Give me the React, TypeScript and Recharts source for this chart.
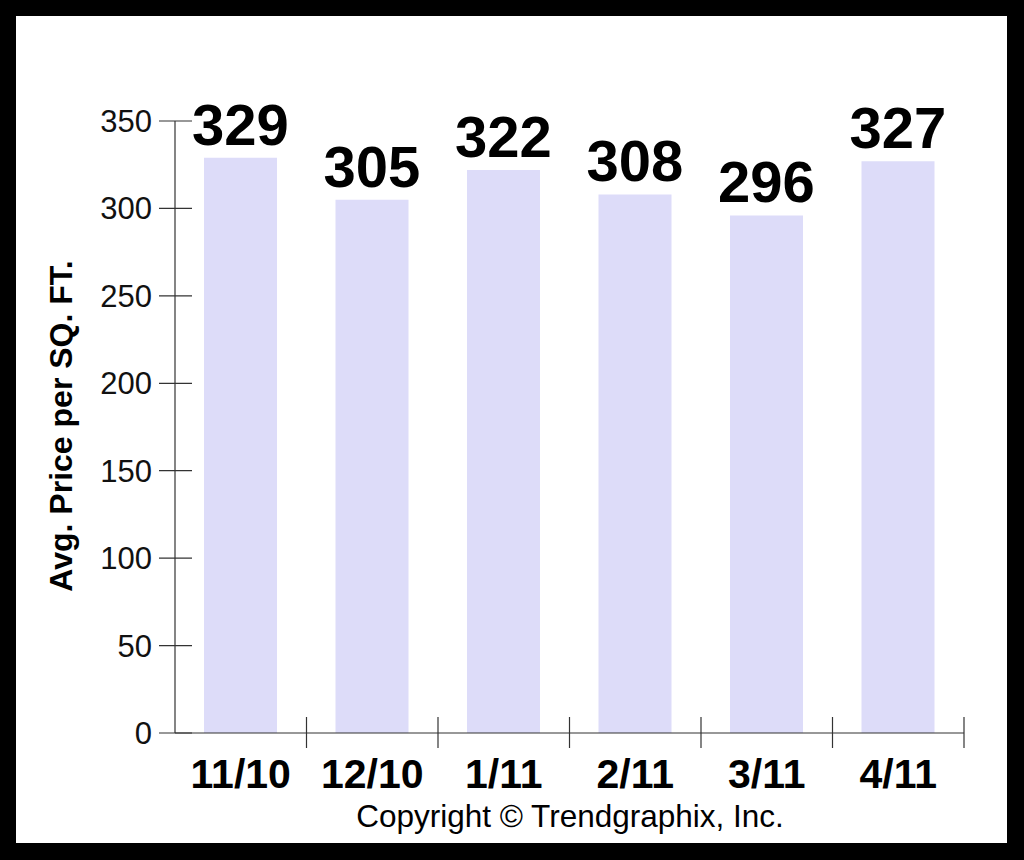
import { BarChart, Bar, XAxis, YAxis, LabelList, Label } from "recharts";

const months = ["11/10", "12/10", "1/11", "2/11", "3/11", "4/11"];
const pricePerSqFt = [329, 305, 322, 308, 296, 327];
const yTicks = [0, 50, 100, 150, 200, 250, 300, 350];

const data = months.map((month, i) => ({ month, price: pricePerSqFt[i] }));

const FONT = "'Liberation Sans', Arial, Helvetica, sans-serif";
const PLOT_LEFT = 175;
const PLOT_RIGHT = 964;
const BAND = (PLOT_RIGHT - PLOT_LEFT) / months.length;

function YTick(props: any) {
  const { x, y, payload } = props;
  return (
    <g>
      <line x1={x - 16} x2={x + 17} y1={y} y2={y} stroke="#333" strokeWidth={1.2} />
      <text
        x={x - 23}
        y={y}
        dy={11}
        textAnchor="end"
        fontFamily={FONT}
        fontSize={31}
        fill="#111"
      >
        {payload.value}
      </text>
    </g>
  );
}

function XTick(props: any) {
  const { x, y, payload } = props;
  const edge = x + BAND / 2;
  return (
    <g>
      <line x1={edge} x2={edge} y1={y - 16} y2={y + 15} stroke="#333" strokeWidth={1.2} />
      <text
        x={x}
        y={y + 55}
        textAnchor="middle"
        fontFamily={FONT}
        fontSize={41}
        fontWeight="bold"
        fill="#000"
      >
        {payload.value}
      </text>
    </g>
  );
}

function YTitle() {
  const cx = 72;
  const cy = 426;
  return (
    <text
      x={cx}
      y={cy}
      transform={`rotate(-90 ${cx} ${cy})`}
      textAnchor="middle"
      fontFamily={FONT}
      fontSize={32}
      fontWeight="bold"
      fill="#000"
    >
      Avg. Price per SQ. FT.
    </text>
  );
}

export default function App() {
  return (
    <div
      style={{
        position: "absolute",
        left: 0,
        top: 0,
        width: 1024,
        height: 860,
        background: "#000",
      }}
    >
      <div
        style={{
          position: "absolute",
          left: 16,
          top: 16,
          width: 991,
          height: 827,
          background: "#fff",
        }}
      />
      <div style={{ position: "absolute", left: 0, top: 0 }}>
        <BarChart
          width={1024}
          height={860}
          data={data}
          margin={{ top: 121, right: 1024 - PLOT_RIGHT, bottom: 27, left: 95 }}
          barSize={73}
        >
          <XAxis
            dataKey="month"
            axisLine={{ stroke: "#333", strokeWidth: 1.2 }}
            tickLine={false}
            tickSize={0}
            tickMargin={0}
            tick={<XTick />}
            interval={0}
            height={100}
          />
          <YAxis
            domain={[0, 350]}
            ticks={yTicks}
            width={80}
            axisLine={{ stroke: "#333", strokeWidth: 1.2 }}
            tickLine={false}
            tickSize={0}
            tickMargin={0}
            tick={<YTick />}
            interval={0}
          >
            <Label content={<YTitle />} />
          </YAxis>
          <Bar dataKey="price" fill="#dddcf9" isAnimationActive={false}>
            <LabelList
              dataKey="price"
              position="top"
              offset={13}
              fontFamily={FONT}
              fontSize={58}
              fontWeight="bold"
              fill="#000"
            />
          </Bar>
        </BarChart>
      </div>
      <div
        style={{
          position: "absolute",
          left: 0,
          top: 796,
          width: 1140,
          textAlign: "center",
          fontFamily: FONT,
          fontSize: 31.5,
          lineHeight: "40px",
          color: "#000",
        }}
      >
        Copyright © Trendgraphix, Inc.
      </div>
    </div>
  );
}
